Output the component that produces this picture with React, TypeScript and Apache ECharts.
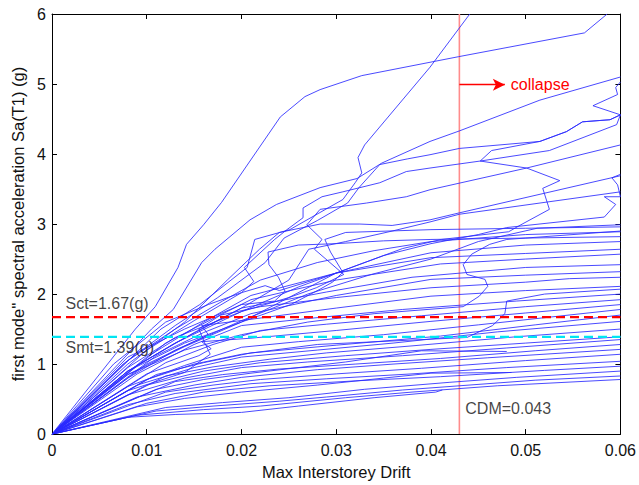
import React, { useEffect, useRef } from "react";
import * as echarts from "echarts";

type Pt = [number, number];

// Axis ticks
const xTicks = [0, 0.01, 0.02, 0.03, 0.04, 0.05, 0.06];
const yTicks = [0, 1, 2, 3, 4, 5, 6];

// Reference levels
const sct = 1.67;
const smt = 1.39;
const cdm = 0.043;

// IDA curves: [max interstorey drift, Sa(T1) in g]
const rec01: Pt[] = [[0,0],[0.0088,1.5],[0.0109,1.82],[0.0133,2.38],[0.0142,2.71],[0.016,2.99],[0.0179,3.31],[0.0241,4.53],[0.0267,4.82],[0.0283,4.92],[0.0327,5.12],[0.0429,5.39],[0.0562,5.73],[0.0586,6.0]];
const rec02: Pt[] = [[0,0],[0.0115,1.5],[0.0156,1.85],[0.0206,2.38],[0.0214,2.78],[0.0251,2.92],[0.0307,3.35],[0.032,3.59],[0.0327,3.73],[0.0323,3.95],[0.033,4.13],[0.0399,5.24],[0.0441,6.0]];
const rec03: Pt[] = [[0,0],[0.0105,1.5],[0.0128,1.78],[0.0158,2.45],[0.0172,2.64],[0.0209,3.06],[0.0237,3.28],[0.0283,3.52],[0.0322,3.65],[0.0348,3.87],[0.0399,4.18],[0.043,4.33],[0.0515,4.77],[0.06,5.1]];
const rec04: Pt[] = [[0,0],[0.0065,1.0],[0.012,1.6],[0.0165,1.85],[0.02,2.02],[0.0213,2.18],[0.0203,2.38],[0.0235,2.78],[0.0248,2.92],[0.0265,3.09],[0.0265,3.23],[0.0285,3.39],[0.0307,3.46],[0.0346,3.59],[0.0374,3.75],[0.0399,3.8],[0.0452,3.9],[0.0525,4.05],[0.0596,4.42],[0.06,4.56]];
const rec05: Pt[] = [[0,0],[0.0075,1.0],[0.013,1.55],[0.0175,1.95],[0.0225,2.45],[0.0245,2.8],[0.028,3.05],[0.0312,3.3],[0.0324,3.52],[0.0346,3.85],[0.0375,3.93],[0.0399,3.99],[0.043,4.08],[0.0515,4.18],[0.0543,4.32],[0.056,4.46],[0.0589,4.49],[0.06,4.56]];
const rec06: Pt[] = [[0,0],[0.008,0.9],[0.013,1.3],[0.02,1.75],[0.026,2.1],[0.032,2.4],[0.037,2.65],[0.0411,2.78],[0.0482,2.89],[0.0495,2.99],[0.0525,3.21],[0.0518,3.51],[0.0536,3.62],[0.0501,3.8],[0.0452,3.9],[0.0464,4.05],[0.0515,4.18],[0.0543,4.32],[0.056,4.46],[0.0589,4.49],[0.06,4.56],[0.0571,4.69],[0.0597,4.85],[0.0595,4.95],[0.06,5.03]];
const rec07: Pt[] = [[0,0],[0.008,0.95],[0.013,1.38],[0.02,1.75],[0.025,1.95],[0.0279,2.09],[0.0308,2.28],[0.0277,2.64],[0.0285,2.78],[0.0269,2.99],[0.0283,3.21],[0.0332,3.3],[0.0374,3.39],[0.0399,3.49],[0.0501,3.8],[0.06,4.13]];
const rec08: Pt[] = [[0,0],[0.008,1.0],[0.014,1.6],[0.0185,2.2],[0.0219,2.64],[0.024,2.88],[0.0283,3.0],[0.0325,3.0],[0.0359,2.98],[0.0399,3.06],[0.043,3.16],[0.06,3.69]];
const rec09: Pt[] = [[0,0],[0.008,0.9],[0.013,1.3],[0.02,1.8],[0.025,2.2],[0.0271,2.64],[0.031,2.75],[0.0359,2.9],[0.0399,3.03],[0.043,3.14],[0.06,3.46]];
const rec10: Pt[] = [[0,0],[0.008,0.85],[0.014,1.25],[0.02,1.6],[0.025,1.95],[0.03,2.3],[0.035,2.55],[0.04,2.72],[0.045,2.85],[0.048,2.95],[0.0583,3.1],[0.0595,3.28],[0.0583,3.39],[0.06,3.39],[0.0597,3.56],[0.0591,3.66],[0.06,3.71]];
const rec11: Pt[] = [[0,0],[0.008,0.8],[0.013,1.2],[0.02,1.62],[0.027,2.0],[0.0337,2.28],[0.04,2.5],[0.045,2.75],[0.0512,2.94],[0.06,2.99]];
const rec12: Pt[] = [[0,0],[0.008,0.24],[0.013,0.28],[0.02,0.31],[0.026,0.4],[0.034,0.52],[0.0405,0.6],[0.0412,0.63]];
const rec13: Pt[] = [[0,0],[0.009,0.27],[0.016,0.35],[0.022,0.4],[0.031,0.52],[0.038,0.6],[0.047,0.69],[0.06,0.78]];
const rec14: Pt[] = [[0,0],[0.011,0.33],[0.017,0.4],[0.024,0.47],[0.029,0.53],[0.037,0.63],[0.051,0.77],[0.06,0.83]];
const rec15: Pt[] = [[0,0],[0.012,0.38],[0.018,0.45],[0.025,0.52],[0.033,0.64],[0.042,0.74],[0.049,0.81],[0.06,0.9]];
const rec16: Pt[] = [[0,0],[0.009,0.39],[0.014,0.51],[0.02,0.6],[0.028,0.7],[0.035,0.8],[0.04,0.87],[0.0485,0.88]];
const rec17: Pt[] = [[0,0],[0.01,0.44],[0.016,0.6],[0.023,0.69],[0.032,0.76],[0.041,0.82],[0.052,0.91],[0.06,0.97]];
const rec18: Pt[] = [[0,0],[0.008,0.42],[0.013,0.58],[0.021,0.72],[0.029,0.79],[0.038,0.86],[0.048,0.95],[0.06,1.04]];
const rec19: Pt[] = [[0,0],[0.012,0.6],[0.017,0.7],[0.022,0.78],[0.03,0.86],[0.039,0.94],[0.05,1.05],[0.06,1.14]];
const rec20: Pt[] = [[0,0],[0.009,0.53],[0.015,0.7],[0.02,0.81],[0.028,0.92],[0.036,1.0],[0.046,1.09],[0.06,1.21]];
const rec21: Pt[] = [[0,0],[0.011,0.64],[0.016,0.78],[0.021,0.87],[0.031,1.03],[0.039,1.19],[0.048,1.18]];
const rec22: Pt[] = [[0,0],[0.013,0.75],[0.018,0.85],[0.024,0.93],[0.032,1.0],[0.041,1.08],[0.051,1.19],[0.06,1.28]];
const rec23: Pt[] = [[0,0],[0.008,0.56],[0.014,0.8],[0.02,0.95],[0.027,1.03],[0.037,1.12],[0.048,1.23],[0.06,1.35]];
const rec24: Pt[] = [[0,0],[0.01,0.7],[0.016,0.9],[0.022,1.02],[0.031,1.12],[0.04,1.21],[0.05,1.3],[0.06,1.39]];
const rec25: Pt[] = [[0,0],[0.012,0.83],[0.017,0.96],[0.023,1.07],[0.029,1.16],[0.038,1.26],[0.049,1.39],[0.06,1.5]];
const rec26: Pt[] = [[0,0],[0.009,0.7],[0.015,0.95],[0.02,1.1],[0.028,1.2],[0.036,1.3],[0.047,1.46],[0.06,1.61]];
const rec27: Pt[] = [[0,0],[0.011,0.85],[0.016,1.02],[0.021,1.16],[0.03,1.27],[0.041,1.4],[0.051,1.56],[0.06,1.7]];
const rec28: Pt[] = [[0,0],[0.008,0.68],[0.014,0.98],[0.02,1.24],[0.026,1.32],[0.035,1.42],[0.045,1.56],[0.06,1.78]];
const rec29: Pt[] = [[0,0],[0.01,0.86],[0.0155,1.12],[0.0168,1.22],[0.0158,1.32],[0.021,1.37],[0.03,1.48],[0.04,1.61],[0.05,1.73],[0.06,1.85]];
const rec30: Pt[] = [[0,0],[0.012,1.02],[0.017,1.28],[0.022,1.48],[0.029,1.57],[0.039,1.69],[0.05,1.82],[0.06,1.92]];
const rec31: Pt[] = [[0,0],[0.009,0.86],[0.015,1.28],[0.02,1.55],[0.027,1.65],[0.037,1.78],[0.049,1.9],[0.06,2.0]];
const rec32: Pt[] = [[0,0],[0.01,1.0],[0.0165,1.42],[0.0158,1.55],[0.021,1.64],[0.03,1.8],[0.04,1.97],[0.05,2.05],[0.06,2.11]];
const rec33: Pt[] = [[0,0],[0.011,1.12],[0.016,1.45],[0.021,1.72],[0.03,1.98],[0.04,2.21],[0.05,2.27],[0.06,2.32]];
const rec34: Pt[] = [[0,0],[0.009,0.98],[0.015,1.45],[0.02,1.8],[0.029,2.03],[0.038,2.24],[0.05,2.38],[0.06,2.42]];
const rec35: Pt[] = [[0,0],[0.012,1.3],[0.017,1.65],[0.021,1.92],[0.03,2.2],[0.041,2.43],[0.05,2.5],[0.06,2.57]];
const rec36: Pt[] = [[0,0],[0.01,1.2],[0.015,1.62],[0.02,2.02],[0.0225,2.12],[0.024,2.05],[0.03,2.3],[0.04,2.52],[0.05,2.58],[0.06,2.64]];
const rec37: Pt[] = [[0,0],[0.01,1.1],[0.016,1.6],[0.021,1.98],[0.03,2.3],[0.04,2.59],[0.05,2.7],[0.06,2.75]];
const rec38: Pt[] = [[0,0],[0.008,1.1],[0.014,1.5],[0.02,1.85],[0.0235,1.9],[0.0246,2.04],[0.0239,2.24],[0.0229,2.42],[0.0228,2.6],[0.026,2.7],[0.03,2.72],[0.035,2.76],[0.04,2.78],[0.05,2.8],[0.06,2.82]];
const rec39: Pt[] = [[0,0],[0.008,1.05],[0.013,1.5],[0.018,1.9],[0.022,2.2],[0.028,2.45],[0.034,2.62],[0.04,2.75],[0.05,2.85],[0.06,2.89]];
const rec40: Pt[] = [[0,0],[0.008,0.85],[0.014,1.2],[0.02,1.42],[0.027,1.6],[0.034,1.72],[0.0434,1.82],[0.0451,1.97],[0.046,2.11],[0.0457,2.21],[0.0438,2.28],[0.0434,2.42],[0.0443,2.57],[0.0462,2.71],[0.048,2.78],[0.06,2.9]];
const rec41: Pt[] = [[0,0],[0.01,0.78],[0.015,1.0],[0.02,1.14],[0.028,1.28],[0.0438,1.38],[0.0465,1.55],[0.0478,1.72],[0.048,1.9],[0.052,2.0],[0.06,2.07]];
const rec42: Pt[] = [[0,0],[0.008,0.9],[0.014,1.3],[0.02,1.6],[0.0252,1.85],[0.0283,2.07],[0.0296,2.17],[0.0307,2.31],[0.0294,2.6],[0.0288,2.78],[0.031,2.88],[0.04,2.92],[0.05,2.94],[0.06,2.96]];
const rec43: Pt[] = [[0,0],[0.008,0.62],[0.014,0.88],[0.0167,1.14],[0.0161,1.31],[0.0155,1.5],[0.0178,1.7],[0.022,1.82],[0.03,1.95],[0.04,2.09],[0.05,2.17],[0.0546,2.22],[0.06,2.24]];

const records: Pt[][] = [
  rec01, rec02, rec03, rec04, rec05, rec06, rec07, rec08, rec09, rec10,
  rec11, rec12, rec13, rec14, rec15, rec16, rec17, rec18, rec19, rec20,
  rec21, rec22, rec23, rec24, rec25, rec26, rec27, rec28, rec29, rec30,
  rec31, rec32, rec33, rec34, rec35, rec36, rec37, rec38, rec39, rec40,
  rec41, rec42, rec43,
];

const FONT = "'Liberation Sans', Arial, Helvetica, sans-serif";
const TXT = "#111111";

export default function App() {
  const ref = useRef<HTMLDivElement>(null);

  useEffect(() => {
    if (!ref.current) return;
    const chart = echarts.init(ref.current, undefined, { renderer: "svg" });

    const curveSeries = records.map((r) => ({
      type: "line",
      data: r,
      showSymbol: false,
      symbol: "none",
      silent: true,
      lineStyle: { color: "#2a2aff", width: 1, opacity: 0.85 },
      z: 2,
    }));

    const textPoint = (x: number, y: number, text: string, color: string) => ({
      type: "scatter",
      data: [[x, y]],
      symbolSize: 1,
      itemStyle: { color: "rgba(0,0,0,0)" },
      silent: true,
      z: 10,
      label: {
        show: true,
        position: "right",
        distance: 0,
        formatter: text,
        fontSize: 16,
        fontFamily: FONT,
        color,
      },
    });

    const axisCommon = {
      axisLine: { show: true, onZero: false, lineStyle: { color: "#000", width: 1 } },
      axisTick: { show: true, inside: true, length: 5, lineStyle: { color: "#000" } },
      splitLine: { show: false },
    };

    const option: any = {
      animation: false,
      grid: { left: 52, right: 18, top: 14, bottom: 50 },
      xAxis: [
        {
          type: "value",
          min: xTicks[0],
          max: xTicks[xTicks.length - 1],
          interval: 0.01,
          name: "Max Interstorey Drift",
          nameLocation: "middle",
          nameGap: 28,
          nameTextStyle: { fontSize: 16.5, color: TXT, fontFamily: FONT },
          ...axisCommon,
          axisLabel: {
            fontSize: 16,
            color: TXT,
            fontFamily: FONT,
            margin: 8,
            formatter: (v: number) => (v === 0 ? "0" : v.toFixed(2)),
          },
        },
        {
          type: "value",
          position: "top",
          min: xTicks[0],
          max: xTicks[xTicks.length - 1],
          interval: 0.01,
          ...axisCommon,
          axisLabel: { show: false },
        },
      ],
      yAxis: [
        {
          type: "value",
          min: yTicks[0],
          max: yTicks[yTicks.length - 1],
          interval: 1,
          name: "first mode'' spectral acceleration Sa(T1) (g)",
          nameLocation: "middle",
          nameGap: 26,
          nameTextStyle: { fontSize: 16.5, color: TXT, fontFamily: FONT },
          ...axisCommon,
          axisLabel: { fontSize: 16, color: TXT, fontFamily: FONT, margin: 6 },
        },
        {
          type: "value",
          position: "right",
          min: yTicks[0],
          max: yTicks[yTicks.length - 1],
          interval: 1,
          ...axisCommon,
          axisLabel: { show: false },
        },
      ],
      series: [
        {
          type: "line",
          data: [[cdm, 0], [cdm, 6]],
          showSymbol: false,
          symbol: "none",
          silent: true,
          lineStyle: { color: "#ff8c8c", width: 1.6 },
          z: 1,
        },
        ...curveSeries,
        {
          type: "line",
          data: [[0, sct], [0.06, sct]],
          showSymbol: false,
          symbol: "none",
          silent: true,
          lineStyle: { color: "#ff0000", width: 2.2, type: [9, 5] },
          z: 5,
        },
        {
          type: "line",
          data: [[0, smt], [0.06, smt]],
          showSymbol: false,
          symbol: "none",
          silent: true,
          lineStyle: { color: "#00e5f2", width: 2.2, type: [9, 5] },
          z: 5,
        },
        {
          type: "line",
          data: [],
          silent: true,
          z: 6,
          markLine: {
            silent: true,
            animation: false,
            symbol: ["none", "arrow"],
            symbolSize: [9, 12],
            lineStyle: { color: "#ff0000", width: 1.3, type: "solid" },
            label: {
              show: true,
              position: "end",
              distance: 6,
              formatter: "collapse",
              color: "#ff0000",
              fontSize: 16,
              fontFamily: FONT,
            },
            data: [[{ coord: [cdm, 4.99] }, { coord: [0.0478, 4.99] }]],
          },
        },
        textPoint(0.00137, 1.87, "Sct=1.67(g)", TXT),
        textPoint(0.00137, 1.24, "Smt=1.39(g)", TXT),
        textPoint(0.04357, 0.363, "CDM=0.043", TXT),
      ],
    };

    chart.setOption(option);
    return () => chart.dispose();
  }, []);

  return (
    <div
      ref={ref}
      style={{ position: "absolute", left: 0, top: 0, width: 639, height: 485 }}
    />
  );
}
